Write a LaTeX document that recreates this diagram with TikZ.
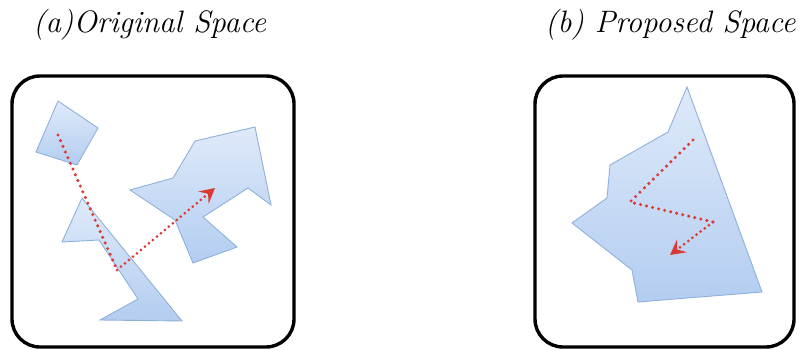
\documentclass[tikz,border=0pt]{standalone}
\usepackage{tikz}
\usetikzlibrary{arrows.meta, positioning}
\definecolor{polyedge}{HTML}{8FB0DA}
\definecolor{polytop}{HTML}{DFEAFA}
\definecolor{polybot}{HTML}{B3CDF0}
\definecolor{pathred}{HTML}{DB3A32}

\begin{document}
\begin{tikzpicture}[
        x=1pt, y=-1pt,
        % the two panels and what is inside them
        frame/.style={draw=black, line width=3.4pt, rounded corners=28pt},
        region/.style={top color=polytop, bottom color=polybot, draw=polyedge, line width=0.9pt},
        walk/.style={draw=pathred, line width=3.4pt, line cap=round,
            dash pattern=on 0pt off 6.2pt},
        thinwalk/.style={walk, line width=3pt, dash pattern=on 0pt off 5.2pt},
        walkend/.style={thinwalk, -{Stealth[length=15pt, width=16pt, inset=6pt]}},
        title/.style={anchor=base west, inner sep=0pt, font=\fontsize{31}{36}\selectfont\itshape}
    ]
    \useasboundingbox (0,0) rectangle (799,350);

    % titles
    \node[title] (ta) at (33,33) {(a)Original Space};
    \node[title] (tb) at (545,33) {(b) Proposed Space};

    % (a) original space
    \draw[frame] (12,76) rectangle (294,347);
    \path[region] (58,101) -- (98,128) -- (77,165) -- (36,152) -- cycle;
    \path[region] (82,198) -- (62,242) -- (99,240) -- (138,299)
        -- (100,320) -- (182,321) -- cycle;
    \path[region] (130,190) -- (175,220) -- (193,263) -- (237,247)
        -- (203,217) -- (248,188) -- (271,205) -- (255,127)
        -- (195,141) -- (173,178) -- cycle;
    \coordinate (a1) at (58,135);
    \coordinate (a2) at (117,270);
    \coordinate (a3) at (215,188);
    \draw[walk] (a1) -- (a2);
    \draw[walkend] (a2) -- (a3);

    % (b) proposed space
    \draw[frame] (535,76) rectangle (794,347);
    \path[region] (687,87) -- (762,292) -- (638,302) -- (632,270)
        -- (572,223) -- (607,198) -- (610,165) -- (668,132) -- cycle;
    \coordinate (b1) at (693,140);
    \coordinate (b2) at (630,202);
    \coordinate (b3) at (713,222);
    \coordinate (b4) at (670,255);
    \draw[walk] (b1) -- (b2) -- (b3);
    \draw[walkend] (b3) -- (b4);
\end{tikzpicture}
\end{document}
